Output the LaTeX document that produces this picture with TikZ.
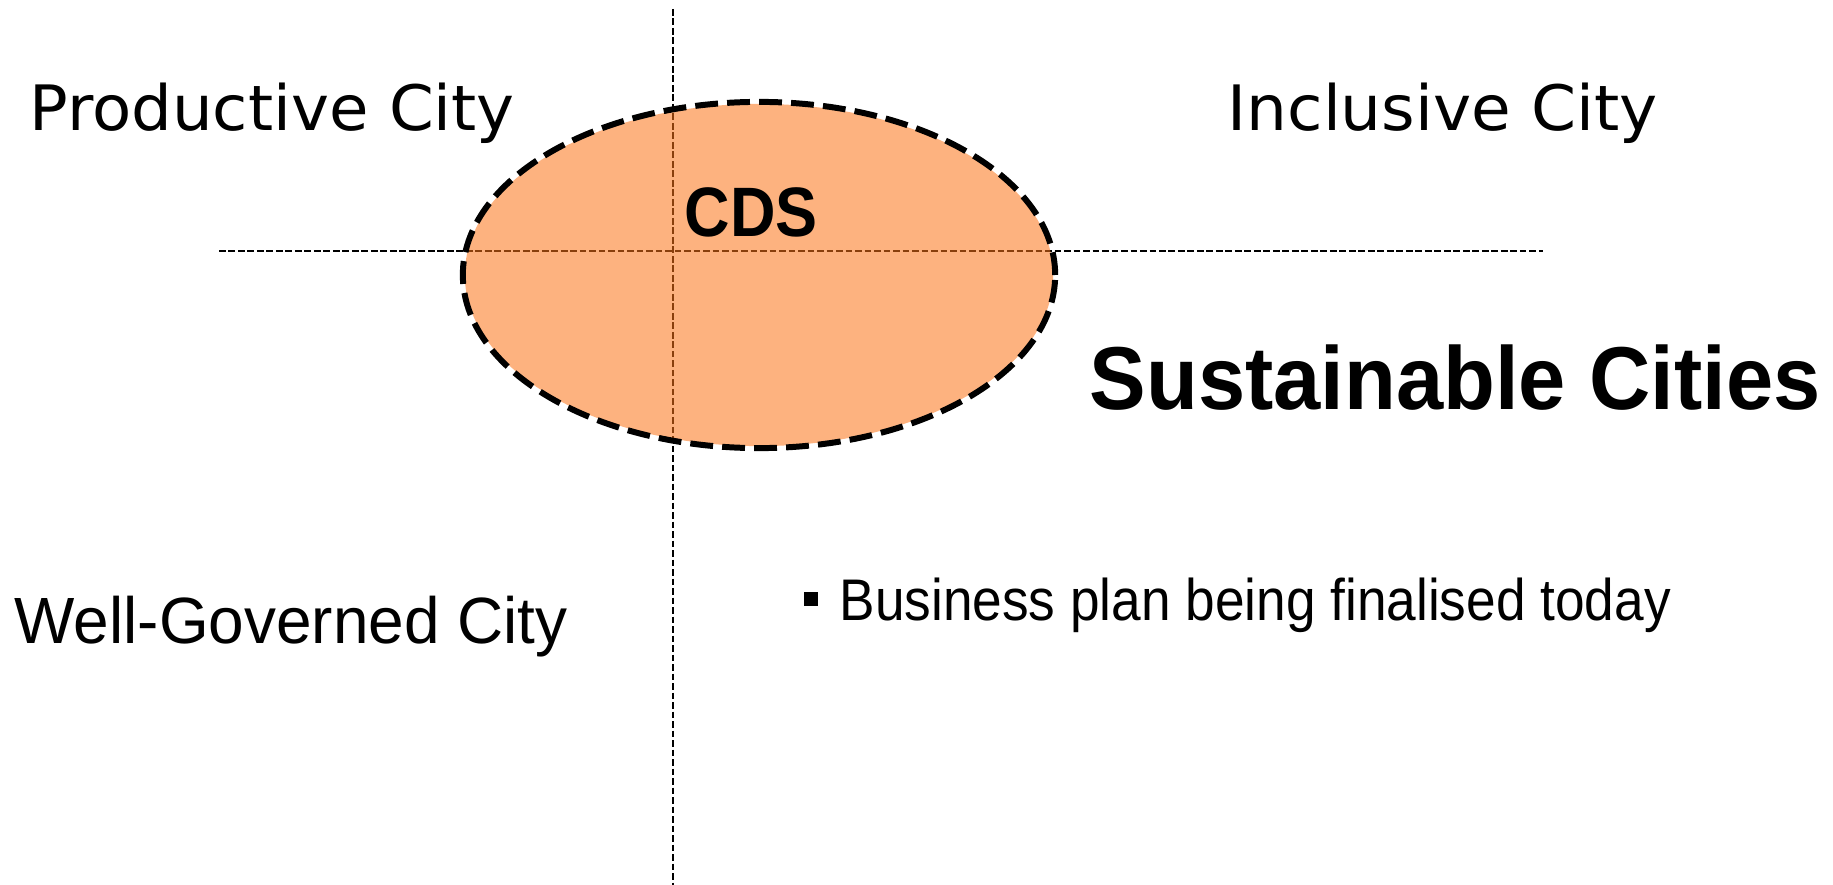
\documentclass[tikz,border=0pt]{standalone}
\usepackage{fontspec}
\setmainfont{Liberation Sans}
\newfontfamily\widefont{DejaVu Sans}
\definecolor{cdsfill}{RGB}{251,115,22}

\begin{document}
\begin{tikzpicture}[x=0.01cm, y=-0.01cm,
  axis/.style={line width=0.55pt, dash pattern=on 1.9pt off 0.8pt},
  city/.style={anchor=base west, inner sep=0pt, font=\widefont\fontsize{17.8}{20}\selectfont},
  label/.style={anchor=base west, inner sep=0pt}]
\useasboundingbox (0,0) rectangle (1833,885);
% axes
\coordinate (top) at (673, 9);
\coordinate (bottom) at (673, 885);
\coordinate (left) at (219, 251);
\coordinate (right) at (1543, 251);
\draw [axis] (top) -- (bottom);
\draw [axis] (left) -- (right);
\coordinate (C) at (759, 275);
\fill [cdsfill, fill opacity=0.55] (C) ellipse [x radius=2.94cm, y radius=1.71cm];
\draw [line width=1.7pt, dash pattern=on 6.5pt off 2.6pt] (C) ellipse [x radius=2.96cm, y radius=1.73cm];

\node [city] (productive) at (29, 131) {\scalebox{1.025}[1]{Productive City}};
\node [city] (inclusive) at (1227, 131) {\scalebox{1.03}[1]{Inclusive City}};
\node [label, font=\fontsize{18.6}{20}\selectfont] (governed) at (14, 643) {\scalebox{0.977}[1]{Well-Governed City}};
\node [label, font=\bfseries\fontsize{25.4}{28}\selectfont] (sustainable) at (1089, 409) {\scalebox{0.95}[1]{Sustainable Cities}};
\node [label, font=\bfseries\fontsize{19.9}{22}\selectfont] (cds) at (684, 236) {\scalebox{0.9}[1]{CDS}};
\fill (804, 592) rectangle (818, 606);
\node [label, font=\fontsize{16.7}{18}\selectfont] (plan) at (839, 620) {\scalebox{0.906}[1]{Business plan being finalised today}};
\end{tikzpicture}
\end{document}
